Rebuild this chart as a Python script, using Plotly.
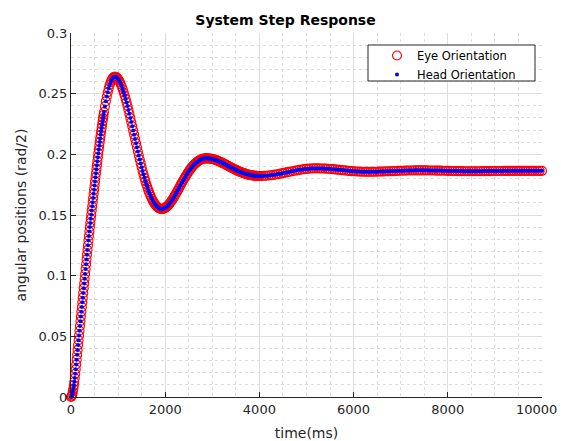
import plotly.graph_objects as go

# Time grids (ms): fine steps on the fast rise, medium through the oscillation, coarse on the tail
t_fine = list(range(0, 700, 10))
t_mid = list(range(700, 4000, 20))
t_tail = list(range(4000, 10001, 50))

# Orientation (rad/2) sampled on each grid
v_fine = [
    0.0000, 0.0004, 0.0013, 0.0027, 0.0046, 0.0069, 0.0096, 0.0125, 0.0157, 0.0192,
    0.0229, 0.0268, 0.0308, 0.0348, 0.0388, 0.0428, 0.0468, 0.0507, 0.0546, 0.0585,
    0.0624, 0.0663, 0.0702, 0.0741, 0.0780, 0.0819, 0.0858, 0.0897, 0.0936, 0.0975,
    0.1014, 0.1054, 0.1094, 0.1134, 0.1173, 0.1212, 0.1251, 0.1289, 0.1327, 0.1364,
    0.1401, 0.1435, 0.1469, 0.1503, 0.1537, 0.1572, 0.1606, 0.1640, 0.1675, 0.1709,
    0.1743, 0.1777, 0.1811, 0.1844, 0.1878, 0.1911, 0.1944, 0.1976, 0.2008, 0.2040,
    0.2071, 0.2101, 0.2131, 0.2161, 0.2190, 0.2218, 0.2245, 0.2272, 0.2298, 0.2324,
]
v_mid = [
    0.2348, 0.2395, 0.2438, 0.2477, 0.2512, 0.2544, 0.2571, 0.2593, 0.2612, 0.2626,
    0.2635, 0.2639,
    0.2640, 0.2636, 0.2630, 0.2621, 0.2608, 0.2594, 0.2576, 0.2556, 0.2534, 0.2510,
    0.2485, 0.2457, 0.2428, 0.2398, 0.2366, 0.2334, 0.2300, 0.2266, 0.2232, 0.2197,
    0.2162, 0.2127, 0.2092, 0.2058, 0.2023, 0.1990, 0.1957, 0.1925, 0.1894, 0.1863,
    0.1834, 0.1806, 0.1779, 0.1754, 0.1730, 0.1707, 0.1686, 0.1666, 0.1648, 0.1631,
    0.1616, 0.1602, 0.1591, 0.1580, 0.1571, 0.1564, 0.1559, 0.1554, 0.1551, 0.1550,
    0.1550,
    0.1552, 0.1555, 0.1559, 0.1565, 0.1571, 0.1579, 0.1588, 0.1598, 0.1609, 0.1620,
    0.1632, 0.1645, 0.1658, 0.1671, 0.1685, 0.1699, 0.1713, 0.1727, 0.1742, 0.1756,
    0.1770, 0.1784, 0.1797, 0.1810, 0.1823, 0.1836, 0.1848, 0.1860, 0.1871, 0.1882,
    0.1892, 0.1901, 0.1910, 0.1918, 0.1925, 0.1932, 0.1939, 0.1944, 0.1949, 0.1954,
    0.1957, 0.1960, 0.1963, 0.1965, 0.1966, 0.1967, 0.1967,
    0.1967, 0.1966, 0.1966, 0.1964, 0.1963, 0.1961, 0.1959, 0.1957, 0.1955, 0.1952,
    0.1949, 0.1946, 0.1943, 0.1939, 0.1936, 0.1932, 0.1928, 0.1924, 0.1920, 0.1916,
    0.1912, 0.1908, 0.1904, 0.1900, 0.1895, 0.1891, 0.1887, 0.1883, 0.1879, 0.1875,
    0.1872, 0.1868, 0.1864, 0.1861, 0.1857, 0.1854, 0.1851, 0.1848, 0.1845, 0.1843,
    0.1840, 0.1838, 0.1835, 0.1833, 0.1832, 0.1830, 0.1828, 0.1827, 0.1826, 0.1825,
    0.1824, 0.1823, 0.1823, 0.1822, 0.1822,
]
v_tail = [
    0.1822,
    0.1822, 0.1823, 0.1824, 0.1826, 0.1828, 0.1831, 0.1834, 0.1837, 0.1841, 0.1845,
    0.1849, 0.1853, 0.1857, 0.1861, 0.1865, 0.1868, 0.1872, 0.1875, 0.1878, 0.1880,
    0.1882, 0.1883, 0.1884, 0.1884,
    0.1884, 0.1883, 0.1883, 0.1882, 0.1881, 0.1879, 0.1878, 0.1876, 0.1874, 0.1872,
    0.1870, 0.1868, 0.1866, 0.1864, 0.1862, 0.1861, 0.1859, 0.1858, 0.1857, 0.1857,
    0.1856, 0.1856,
    0.1856, 0.1856, 0.1857, 0.1857, 0.1858, 0.1858, 0.1859, 0.1860, 0.1860, 0.1861,
    0.1862, 0.1863, 0.1864, 0.1865, 0.1865, 0.1866, 0.1867, 0.1867, 0.1867, 0.1868,
    0.1868, 0.1868,
    0.1868, 0.1868, 0.1868, 0.1867, 0.1867, 0.1867, 0.1866, 0.1866, 0.1866, 0.1865,
    0.1865, 0.1864, 0.1864, 0.1863, 0.1863, 0.1862, 0.1862, 0.1862, 0.1861, 0.1861,
    0.1861, 0.1861,
    0.1861, 0.1861, 0.1861, 0.1861, 0.1862, 0.1862, 0.1862, 0.1862, 0.1863, 0.1863,
    0.1863, 0.1863, 0.1863, 0.1864, 0.1864, 0.1864, 0.1864, 0.1864, 0.1864, 0.1864,
    0.1864, 0.1864, 0.1864, 0.1864, 0.1864, 0.1864, 0.1864, 0.1864, 0.1864, 0.1864,
]

time_ms = t_fine + t_mid + t_tail
eye_orientation = v_fine + v_mid + v_tail
head_orientation = list(eye_orientation)

x_ticks = [0, 2000, 4000, 6000, 8000, 10000]
x_tick_text = ["0", "2000", "4000", "6000", "8000", "10000"]
y_ticks = [0, 0.05, 0.1, 0.15, 0.2, 0.25, 0.3]
y_tick_text = ["0", "0.05", "0.1", "0.15", "0.2", "0.25", "0.3"]

FONT = "DejaVu Sans"
INK = "#262626"

# plot-area geometry in pixels, used to place the legend frame
PL, PR, PT, PB = 71, 542, 33, 397
W, H = 561, 441


def px_x(p):
    return (p - PL) / (PR - PL)


def px_y(p):
    return (PB - p) / (PB - PT)


fig = go.Figure()
fig.add_trace(go.Scatter(
    x=time_ms, y=eye_orientation, mode="markers", name="Eye Orientation",
    marker=dict(symbol="circle-open", size=9, color="#ff0000", line=dict(width=1.1)),
    cliponaxis=False,
))
fig.add_trace(go.Scatter(
    x=time_ms, y=head_orientation, mode="markers", name="Head Orientation",
    marker=dict(symbol="circle", size=4, color="#0000ff", line=dict(width=0)),
    cliponaxis=False,
))

# legend frame (white box with a thin dark border)
fig.add_shape(
    type="rect", xref="paper", yref="paper", layer="above",
    x0=px_x(368), x1=px_x(535), y0=px_y(81), y1=px_y(45),
    line=dict(color=INK, width=1), fillcolor="white",
)

# the last x tick label sits against the right edge of the figure, so it is
# right-aligned there instead of centred on its tick
fig.add_annotation(
    text=x_tick_text[-1], xref="paper", yref="paper",
    x=px_x(559), y=px_y(409), xanchor="right", yanchor="middle",
    showarrow=False, font=dict(family=FONT, size=13, color=INK),
)

fig.update_layout(
    width=W, height=H,
    margin=dict(l=PL, r=W - PR, t=PT, b=H - PB, pad=0, autoexpand=False),
    paper_bgcolor="white", plot_bgcolor="white",
    font=dict(family=FONT, size=13, color=INK),
    title=dict(
        text="System Step Response", x=285.5 / W, xref="container", xanchor="center",
        y=1 - 20 / H, yref="container", yanchor="middle",
        font=dict(family=FONT, size=14, color="#000000", weight="bold"),
    ),
    showlegend=True,
    legend=dict(
        x=px_x(377), y=px_y(41), xanchor="left", yanchor="top",
        bgcolor="rgba(0,0,0,0)", borderwidth=0,
        font=dict(family=FONT, size=11.5, color="#000000"),
        itemwidth=30, tracegroupgap=0,
    ),
)

fig.update_xaxes(
    range=[0, 10000], tickmode="array", tickvals=x_ticks,
    ticktext=x_tick_text[:-1] + [""], automargin=False,
    showline=True, linecolor=INK, linewidth=1, mirror=False,
    ticks="inside", ticklen=5, tickcolor=INK,
    showgrid=True, gridcolor="#dedede", gridwidth=1, zeroline=False,
    minor=dict(dtick=500, tick0=0, showgrid=True, gridcolor="#dcdcdc", griddash="dot", ticks=""),
    title=dict(text="time(ms)", font=dict(family=FONT, size=14, color=INK), standoff=12),
    tickfont=dict(family=FONT, size=13, color=INK),
)
fig.update_yaxes(
    range=[0, 0.3], tickmode="array", tickvals=y_ticks,
    ticktext=y_tick_text, automargin=False,
    showline=True, linecolor=INK, linewidth=1, mirror=False,
    ticks="inside", ticklen=5, tickcolor=INK,
    showgrid=True, gridcolor="#dedede", gridwidth=1, zeroline=False,
    minor=dict(dtick=0.01, tick0=0, showgrid=True, gridcolor="#dcdcdc", griddash="dot", ticks=""),
    title=dict(text="angular positions (rad/2)", font=dict(family=FONT, size=14, color=INK), standoff=8),
    tickfont=dict(family=FONT, size=13, color=INK),
)

fig.write_html("out.html")
